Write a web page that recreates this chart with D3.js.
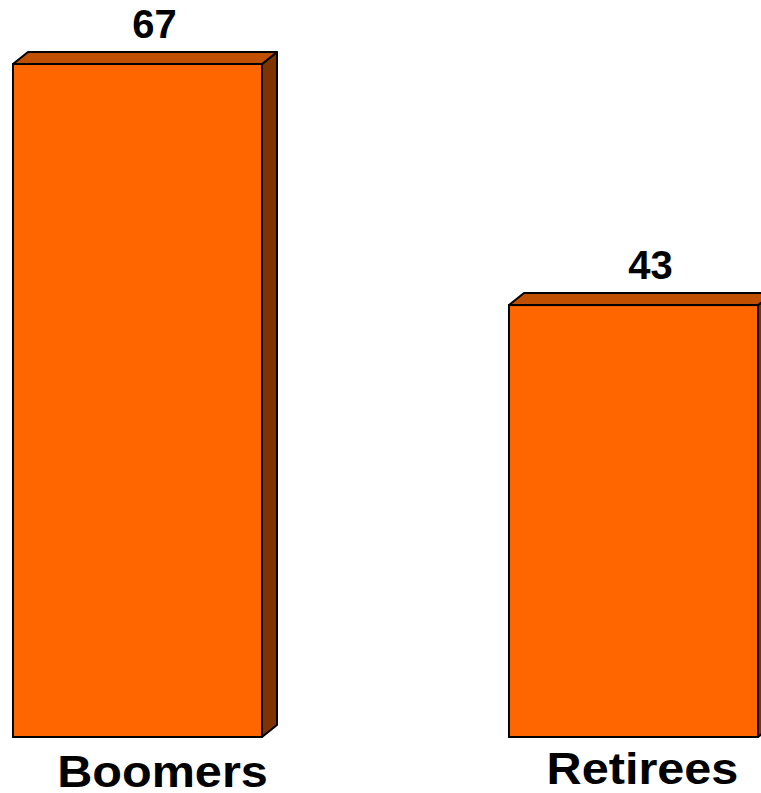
<!DOCTYPE html>
<html>
<head>
<meta charset="utf-8">
<script src="https://cdn.jsdelivr.net/npm/d3@7"></script>
<style>
    html, body { margin: 0; padding: 0; background: #fff; }
    svg { display: block; }
    text { font-family: Arial, "Liberation Sans", sans-serif; font-weight: bold; fill: #000; }
</style>
</head>
<body>
<svg id="chart" width="761" height="793"></svg>
<script>
const categories = ['Boomers', 'Retirees'];
const values = [67, 43];

const width = 761, height = 793;
const depth = {x: 15, y: 12};
// hand tuned to the reference
const labelShift = [{x: 25, y: 787}, {x: 9, y: 784}];
const valueShift = 17;
const stretch = 1.08; // category labels are a bit wider than plain Arial

const svg = d3.select('#chart');

const x = d3.scaleBand()
    .domain(categories)
    .range([13, 758])
    .paddingInner(0.498)
    .paddingOuter(0);

const y = d3.scaleLinear()
    .domain([0, 67])
    .range([737, 64]);

const data = categories.map((c, i) => ({category: c, value: values[i], i}));

const bars = svg.selectAll('g.bar')
    .data(data)
    .enter()
        .append('g')
        .attr('class', 'bar');

function topFace(d){
    let x0 = x(d.category), x1 = x0 + x.bandwidth(), yt = y(d.value);
    return `M ${x0} ${yt} L ${x0 + depth.x} ${yt - depth.y} L ${x1 + depth.x} ${yt - depth.y} L ${x1} ${yt} Z`;
}

function sideFace(d){
    let x1 = x(d.category) + x.bandwidth(), yt = y(d.value), yb = y(0);
    return `M ${x1} ${yt} L ${x1 + depth.x} ${yt - depth.y} L ${x1 + depth.x} ${yb - depth.y} L ${x1} ${yb} Z`;
}

bars.append('path')
    .attr('d', sideFace)
    .attr('fill', '#7F3300')
    .attr('stroke', '#000')
    .attr('stroke-width', 2)
    .attr('stroke-linejoin', 'round');

bars.append('path')
    .attr('d', topFace)
    .attr('fill', '#C04F00')
    .attr('stroke', '#000')
    .attr('stroke-width', 2)
    .attr('stroke-linejoin', 'round');

bars.append('rect')
    .attr('x', d => x(d.category))
    .attr('y', d => y(d.value))
    .attr('width', x.bandwidth())
    .attr('height', d => y(0) - y(d.value))
    .attr('fill', '#FF6600')
    .attr('stroke', '#000')
    .attr('stroke-width', 2);

bars.append('text')
    .attr('x', d => x(d.category) + x.bandwidth() / 2 + valueShift)
    .attr('y', d => y(d.value) - depth.y - 14)
    .attr('text-anchor', 'middle')
    .style('font-size', '40px')
    .text(d => d.value);

bars.append('text')
    .attr('transform', d => `translate(${x(d.category) + x.bandwidth() / 2 + labelShift[d.i].x}, ${labelShift[d.i].y}) scale(${stretch}, 1)`)
    .attr('text-anchor', 'middle')
    .style('font-size', '45px')
    .text(d => d.category);
</script>
</body>
</html>
